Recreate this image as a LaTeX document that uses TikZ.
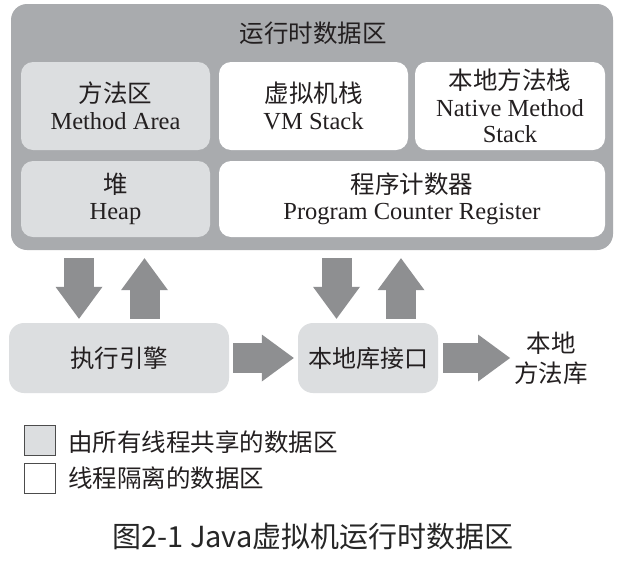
\documentclass[tikz,border=0pt]{standalone}
\usepackage{fontspec}
\setmainfont{Liberation Serif}
\newfontfamily\cjk{Noto Sans CJK SC}
\usetikzlibrary{arrows.meta,calc}
\definecolor{outergray}{HTML}{A9ABAE}
\definecolor{lightgray}{HTML}{DCDEE0}
\definecolor{arrowgray}{HTML}{8E8F91}
\definecolor{txt}{HTML}{231F20}
\begin{document}
\begin{tikzpicture}[x=1pt,y=-1pt,
  every node/.style={text=txt,inner sep=0pt},
  outerbox/.style={fill=outergray,rounded corners=16pt,draw=none},
  sharedbox/.style={fill=lightgray,rounded corners=12pt,draw=none,align=center,
     font=\fontsize{24.5}{26.5}\selectfont},
  privbox/.style={fill=white,rounded corners=12pt,draw=none,align=center,
     font=\fontsize{24.5}{26.5}\selectfont},
  barrow/.style={draw=arrowgray,line width=30pt,
     -{Triangle[width=47pt,length=32pt,line width=0pt,fill=arrowgray]}},
  legendbox/.style={draw=black!70,line width=1pt,minimum width=31pt,minimum height=30pt},
  legendtext/.style={anchor=west,font=\cjk\fontsize{24.5}{26}\selectfont},
]
\useasboundingbox (0,0) rectangle (621,560);
\fill[white] (0,0) rectangle (621,560);

% runtime data area
\node[outerbox,minimum width=602pt,minimum height=246pt] (rt) at (312,127) {};
\node[font=\cjk\fontsize{24.5}{26}\selectfont] (title) at (313,33) {运行时数据区};

\node[sharedbox,minimum width=189pt,minimum height=88pt] (ma) at (115.5,106)
  {{\cjk 方法区}\\Method Area};
\node[privbox,minimum width=189pt,minimum height=88pt] (vm) at (313.5,106)
  {{\cjk 虚拟机栈}\\VM Stack};
\node[privbox,minimum width=190pt,minimum height=88pt] (nms) at (510,106)
  {{\cjk 本地方法栈}\\Native Method\\Stack};
\node[sharedbox,minimum width=189pt,minimum height=76pt] (heap) at (115.5,199)
  {{\cjk 堆}\\Heap};
\node[privbox,minimum width=386pt,minimum height=76pt] (pc) at (412,199)
  {{\cjk 程序计数器}\\Program Counter Register};

% execution engine and native interface
\node[sharedbox,rounded corners=15pt,minimum width=220pt,minimum height=70pt,font=\cjk\fontsize{24.5}{26}\selectfont] (eng) at (119,358) {执行引擎};
\node[sharedbox,rounded corners=15pt,minimum width=140pt,minimum height=70pt,font=\cjk\fontsize{24}{26}\selectfont] (ni) at (368,358) {本地库接口};
\node[align=center,font=\cjk\fontsize{24.5}{30}\selectfont] (nl) at (551,358) {本地\\方法库};

% arrow columns
\coordinate (c1) at (79,0);
\coordinate (c2) at (144.5,0);
\coordinate (c3) at (336.5,0);
\coordinate (c4) at (401,0);

\draw[barrow,shorten <=8pt,shorten >=4pt] (rt.south -| c1) -- (eng.north -| c1);
\draw[barrow,shorten <=4pt,shorten >=8pt] (eng.north -| c2) -- (rt.south -| c2);
\draw[barrow,shorten <=8pt,shorten >=4pt] (rt.south -| c3) -- (ni.north -| c3);
\draw[barrow,shorten <=4pt,shorten >=8pt] (ni.north -| c4) -- (rt.south -| c4);
\draw[barrow,shorten <=4pt,shorten >=4pt] (eng.east) -- (ni.west);
\draw[barrow,shorten <=5pt,shorten >=4pt] (ni.east) -- (nl.west);

% legend
\node[legendbox,fill=lightgray] (lg1) at (40,440.5) {};
\node[legendbox,fill=white] (lg2) at (40,478) {};
\node[legendtext] (lt1) at (68,442) {由所有线程共享的数据区};
\node[legendtext] (lt2) at (68,478) {线程隔离的数据区};

% caption
\node[font=\cjk\fontsize{29}{31}\selectfont,text=black!85] (cap) at (313,537) {图2-1 Java虚拟机运行时数据区};
\end{tikzpicture}
\end{document}
